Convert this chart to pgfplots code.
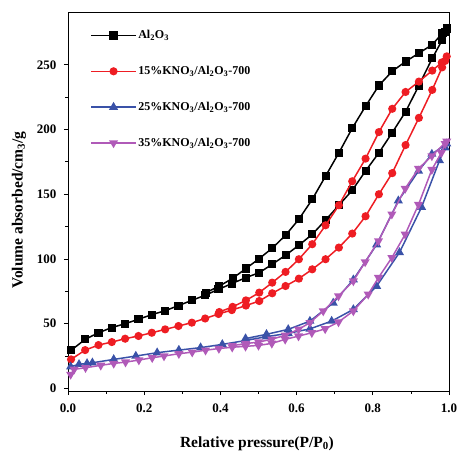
\documentclass[border=0pt]{standalone}
\usepackage{fontspec}
\setmainfont{Liberation Serif}
\usepackage{pgfplots}
\pgfplotsset{compat=1.18}
\usetikzlibrary{calc}

\definecolor{cred}{HTML}{EE1D23}
\definecolor{cblue}{HTML}{3A52A8}
\definecolor{cpurple}{HTML}{B05AB8}

\newcommand{\tickfont}{\fontsize{13bp}{15bp}\selectfont\bfseries}
\newcommand{\legfont}{\fontsize{12bp}{14bp}\selectfont\bfseries}
\newcommand{\labfont}{\fontsize{15.5bp}{18bp}\selectfont\bfseries}

\begin{document}
\begin{tikzpicture}
\begin{axis}[
    scale only axis,
    width=381bp, height=378bp,
    xmin=0, xmax=1, ymin=-2, ymax=290,
    xtick={0,0.2,0.4,0.6,0.8,1.0}, minor x tick num=1,
    ytick={0,50,100,150,200,250}, minor y tick num=1,
    tick align=outside, xtick pos=bottom, ytick pos=left,
    major tick length=4bp, minor tick length=2.5bp,
    axis line style={line width=1pt},
    every tick/.style={black, line width=0.8pt},
    /pgf/number format/assume math mode=true,
    xticklabel style={/pgf/number format/fixed, /pgf/number format/fixed zerofill,
        /pgf/number format/precision=1, yshift=-5bp},
    yticklabel style={xshift=-4bp},
    ticklabel style={font=\tickfont},
    xlabel={Relative pressure(P/P\textsubscript{0})},
    ylabel={Volume absorbed/cm\textsubscript{3}/g},
    label style={font=\labfont},
    xlabel style={at={(axis description cs:0.496,-0.14)}, anchor=center},
    ylabel style={at={(axis description cs:-0.129,0.479)}, anchor=center},
    clip mode=individual,
    legend cell align=left,
    legend style={at={(0.058,0.958)}, anchor=north west, draw=none, fill=none,
        font=\legfont, inner sep=0pt, row sep=23bp,
        nodes={inner sep=1.5bp}},
    legend image code/.code={\draw[mark repeat=2,mark phase=2,#1]
        plot coordinates {(0bp,0bp) (22.5bp,0bp) (45bp,0bp)};},
]
% Al2O3
\addplot[black, line width=1.5pt, mark=square*, mark size=3.3bp, mark options={solid, fill=black}] coordinates {
(0.008,29.4)(0.045,37.9)(0.080,43)(0.115,47)(0.150,50)(0.185,53.4)(0.220,57)(0.255,60)(0.290,64)(0.325,68)
(0.360,72)(0.395,76.5)(0.430,81)(0.467,85.6)(0.502,89.4)(0.536,95.9)(0.571,102.9)(0.606,110.6)(0.641,119)
(0.676,130)(0.711,141.5)(0.746,153)(0.781,168)(0.816,182)(0.851,197.6)(0.886,213.7)(0.921,234)(0.956,255)
(0.982,269)(0.990,275)(0.994,278)(0.983,274.5)(0.956,265.5)(0.921,259)(0.886,252.5)(0.851,245)(0.816,234)
(0.781,218)(0.746,201)(0.711,182)(0.676,164)(0.641,146)(0.606,130.7)(0.571,118.3)(0.536,108.3)(0.502,100.3)
(0.467,92.6)(0.432,85)(0.397,79)(0.362,74)
};
\addlegendentry{Al\textsubscript{2}O\textsubscript{3}}
% 15%
\addplot[cred, line width=1.5pt, mark=*, mark size=3.3bp, mark options={solid, fill=cred}] coordinates {
(0.008,22.4)(0.045,29.6)(0.080,33.5)(0.115,35.8)(0.150,38.4)(0.185,40.5)(0.220,43)(0.255,45.6)(0.290,48.2)
(0.325,50.8)(0.360,54)(0.395,57.5)(0.430,60.5)(0.467,64)(0.502,67.5)(0.536,73.5)(0.571,79.1)(0.606,84.8)
(0.641,92)(0.676,99.8)(0.711,108.8)(0.746,119.6)(0.781,133)(0.816,150)(0.851,166.3)(0.886,188)(0.921,209)
(0.956,230.6)(0.982,248)(0.990,253)(0.994,256.5)(0.981,251.8)(0.956,245.5)(0.921,237)(0.886,229)(0.851,216)
(0.816,198)(0.781,177.5)(0.746,160)(0.711,141.5)(0.676,126)(0.641,111.4)(0.606,99.8)(0.571,90)(0.536,81.7)
(0.502,74)(0.467,68)(0.432,63)(0.397,59)
};
\addlegendentry{15\%KNO\textsubscript{3}/Al\textsubscript{2}O\textsubscript{3}-700}
% 25%
\addplot[cblue, line width=1.5pt, mark=triangle*, mark size=3.8bp, mark options={solid, fill=cblue}] coordinates {
(0.007,16.8)(0.029,18.6)(0.050,19.3)(0.064,19.8)(0.120,22.4)(0.178,25)(0.234,27.6)(0.291,29.6)(0.348,31.5)
(0.405,34)(0.466,37)(0.521,40)(0.578,42.5)(0.635,46)(0.692,52)(0.749,61)(0.810,79)(0.870,105)(0.928,140)
(0.975,176)(0.990,186)(0.994,189)(0.955,181)(0.920,168)(0.867,145)(0.810,111)(0.749,84)(0.696,66)(0.635,52)
(0.578,45.6)(0.521,41.8)(0.466,38.5)
};
\addlegendentry{25\%KNO\textsubscript{3}/Al\textsubscript{2}O\textsubscript{3}-700}
% 35%
\addplot[cpurple, line width=1.5pt, mark=triangle*, mark size=3.8bp, mark options={solid, fill=cpurple, rotate=180}] coordinates {
(0.007,10.8)(0.016,14.7)(0.046,16)(0.086,17.8)(0.120,19.3)(0.151,20.3)(0.186,21.9)(0.221,23.7)(0.252,25)
(0.291,26.8)(0.326,28)(0.361,29.5)(0.396,30.8)(0.431,31.8)(0.466,32.5)(0.500,33.2)(0.535,34.8)(0.570,37.9)
(0.605,40.4)(0.640,43)(0.675,46)(0.710,51.3)(0.749,59.8)(0.788,72.7)(0.815,85.6)(0.850,101)(0.885,119)
(0.920,142)(0.955,169)(0.980,182)(0.990,189)(0.994,191)(0.955,179.6)(0.920,169.8)(0.885,154.4)(0.850,134.6)
(0.815,113.9)(0.780,97.7)(0.749,83)(0.710,71.4)(0.670,59.8)(0.635,50.8)(0.605,45.6)(0.570,41)(0.535,38)
(0.500,35.8)(0.466,34.6)(0.431,33)
};
\addlegendentry{35\%KNO\textsubscript{3}/Al\textsubscript{2}O\textsubscript{3}-700}
\end{axis}
\pgfresetboundingbox
\path[use as bounding box] ($(current axis.south west)+(-68bp,-63bp)$) rectangle ++(459bp,454bp);
\end{tikzpicture}
\end{document}
